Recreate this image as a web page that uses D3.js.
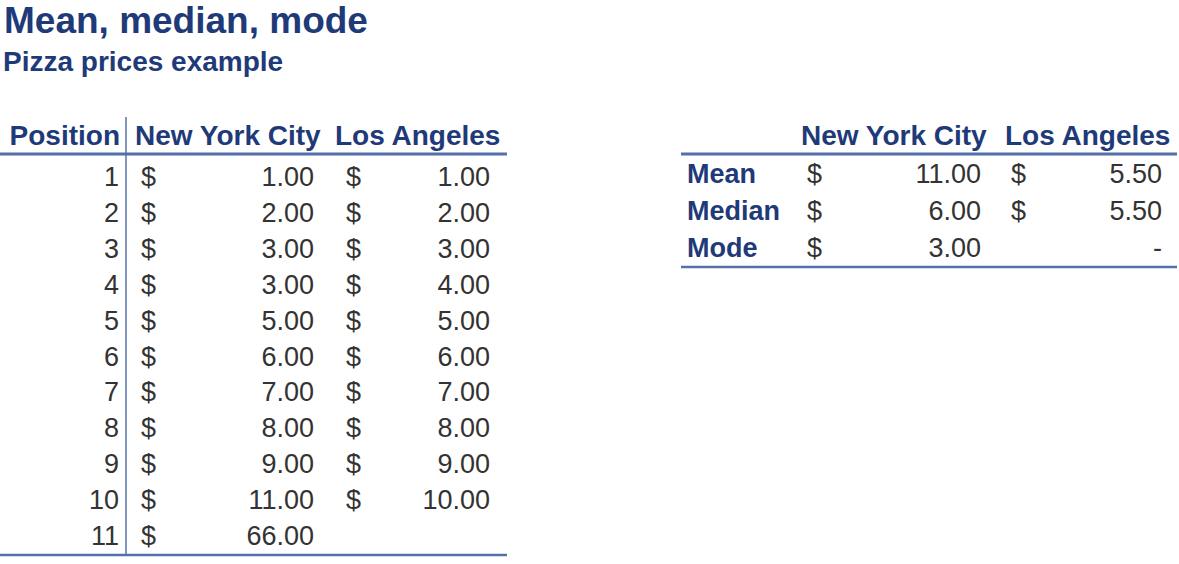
<!DOCTYPE html>
<html lang="en">
<head>
    <meta charset="UTF-8">
    <title>Mean, median, mode</title>
    <script src="https://cdn.jsdelivr.net/npm/d3@7/dist/d3.min.js"></script>
    <style>
        body{
            margin: 0;
            background-color: #fff;
        }
        svg text{
            font-family: "Liberation Sans", Arial, sans-serif;
        }
    </style>
</head>
<body>
<script>
    // Values
    const positions = [1, 2, 3, 4, 5, 6, 7, 8, 9, 10, 11];
    const nycPrices = [1, 2, 3, 3, 5, 6, 7, 8, 9, 11, 66];
    const laPrices = [1, 2, 3, 4, 5, 6, 7, 8, 9, 10, null];
    const cities = ["New York City", "Los Angeles"];
    const statNames = ["Mean", "Median", "Mode"];
    const nycStats = [11, 6, 3];
    const laStats = [5.5, 5.5, null];

    const width = 1179;
    const height = 564;
    const navy = "#1f3a78";
    const bodyColor = "#333333";
    const lineColor = "#5470aa";
    const fmt = d3.format(".2f");

    const svg = d3.select("body")
        .append("svg")
        .attr("width", width)
        .attr("height", height);

    // Title
    svg.append("text")
        .attr("x", 4)
        .attr("y", 33)
        .style("font-size", "37px")
        .style("font-weight", "bold")
        .attr("fill", navy)
        .text("Mean, median, mode");

    svg.append("text")
        .attr("x", 3)
        .attr("y", 71)
        .style("font-size", "28px")
        .style("font-weight", "bold")
        .attr("fill", navy)
        .text("Pizza prices example");

    // ---------- Left table: prices by position ----------
    const left = svg.append("g");
    const yRows = d3.scaleBand()
        .domain(positions)
        .range([159, 554]);
    const rowBase = d => yRows(d) + yRows.bandwidth() / 2 + 9;
    const headerBase = 145;

    left.append("text")
        .attr("x", 120)
        .attr("y", headerBase)
        .attr("text-anchor", "end")
        .style("font-size", "28px")
        .style("font-weight", "bold")
        .attr("fill", navy)
        .text("Position");

    left.selectAll(".city-head")
        .data(cities)
        .enter()
        .append("text")
        .attr("class", "city-head")
        .attr("x", (d, i) => [135, 335][i])
        .attr("y", headerBase)
        .style("font-size", "28px")
        .style("font-weight", "bold")
        .attr("fill", navy)
        .text(d => d);

    // Position numbers
    left.selectAll(".pos")
        .data(positions)
        .enter()
        .append("text")
        .attr("class", "pos")
        .attr("x", 119)
        .attr("y", d => rowBase(d))
        .attr("text-anchor", "end")
        .style("font-size", "27px")
        .attr("fill", bodyColor)
        .text(d => d);

    // Price columns
    const priceCols = [
        { values: nycPrices, dollarX: 141, valueX: 314 },
        { values: laPrices, dollarX: 346, valueX: 490 }
    ];
    priceCols.forEach(col => {
        const rows = positions.map((p, i) => ({ p, v: col.values[i] }))
            .filter(d => d.v !== null);
        left.selectAll(null)
            .data(rows)
            .enter()
            .append("text")
            .attr("x", col.dollarX)
            .attr("y", d => rowBase(d.p))
            .style("font-size", "27px")
            .attr("fill", bodyColor)
            .text("$");
        left.selectAll(null)
            .data(rows)
            .enter()
            .append("text")
            .attr("x", col.valueX)
            .attr("y", d => rowBase(d.p))
            .attr("text-anchor", "end")
            .style("font-size", "27px")
            .attr("fill", bodyColor)
            .text(d => fmt(d.v));
    });

    // Table rules
    left.append("line")
        .attr("x1", 0).attr("x2", 507)
        .attr("y1", 154).attr("y2", 154)
        .attr("stroke", lineColor)
        .attr("stroke-width", 3);
    left.append("line")
        .attr("x1", 0).attr("x2", 507)
        .attr("y1", 555).attr("y2", 555)
        .attr("stroke", lineColor)
        .attr("stroke-width", 2.5);
    left.append("line")
        .attr("x1", 126).attr("x2", 126)
        .attr("y1", 117).attr("y2", 556)
        .attr("stroke", lineColor)
        .attr("stroke-width", 1.5);

    // ---------- Right table: summary stats ----------
    const right = svg.append("g");
    const yStats = d3.scaleBand()
        .domain(statNames)
        .range([156, 266]);
    const statBase = d => yStats(d) + yStats.bandwidth() / 2 + 9;

    right.selectAll(".city-head")
        .data(cities)
        .enter()
        .append("text")
        .attr("class", "city-head")
        .attr("x", (d, i) => [801, 1005][i])
        .attr("y", headerBase)
        .style("font-size", "28px")
        .style("font-weight", "bold")
        .attr("fill", navy)
        .text(d => d);

    right.selectAll(".stat-name")
        .data(statNames)
        .enter()
        .append("text")
        .attr("class", "stat-name")
        .attr("x", 687)
        .attr("y", d => statBase(d))
        .style("font-size", "27px")
        .style("font-weight", "bold")
        .attr("fill", navy)
        .text(d => d);

    const statCols = [
        { values: nycStats, dollarX: 807, valueX: 981 },
        { values: laStats, dollarX: 1011, valueX: 1162 }
    ];
    statCols.forEach(col => {
        const rows = statNames.map((s, i) => ({ s, v: col.values[i] }));
        right.selectAll(null)
            .data(rows.filter(d => d.v !== null))
            .enter()
            .append("text")
            .attr("x", col.dollarX)
            .attr("y", d => statBase(d.s))
            .style("font-size", "27px")
            .attr("fill", bodyColor)
            .text("$");
        right.selectAll(null)
            .data(rows)
            .enter()
            .append("text")
            .attr("x", col.valueX)
            .attr("y", d => statBase(d.s))
            .attr("text-anchor", "end")
            .style("font-size", "27px")
            .attr("fill", bodyColor)
            .text(d => d.v === null ? "-" : fmt(d.v));
    });

    right.append("line")
        .attr("x1", 681).attr("x2", 1177)
        .attr("y1", 154).attr("y2", 154)
        .attr("stroke", lineColor)
        .attr("stroke-width", 3);
    right.append("line")
        .attr("x1", 681).attr("x2", 1177)
        .attr("y1", 267).attr("y2", 267)
        .attr("stroke", lineColor)
        .attr("stroke-width", 2.5);
</script>
</body>
</html>
